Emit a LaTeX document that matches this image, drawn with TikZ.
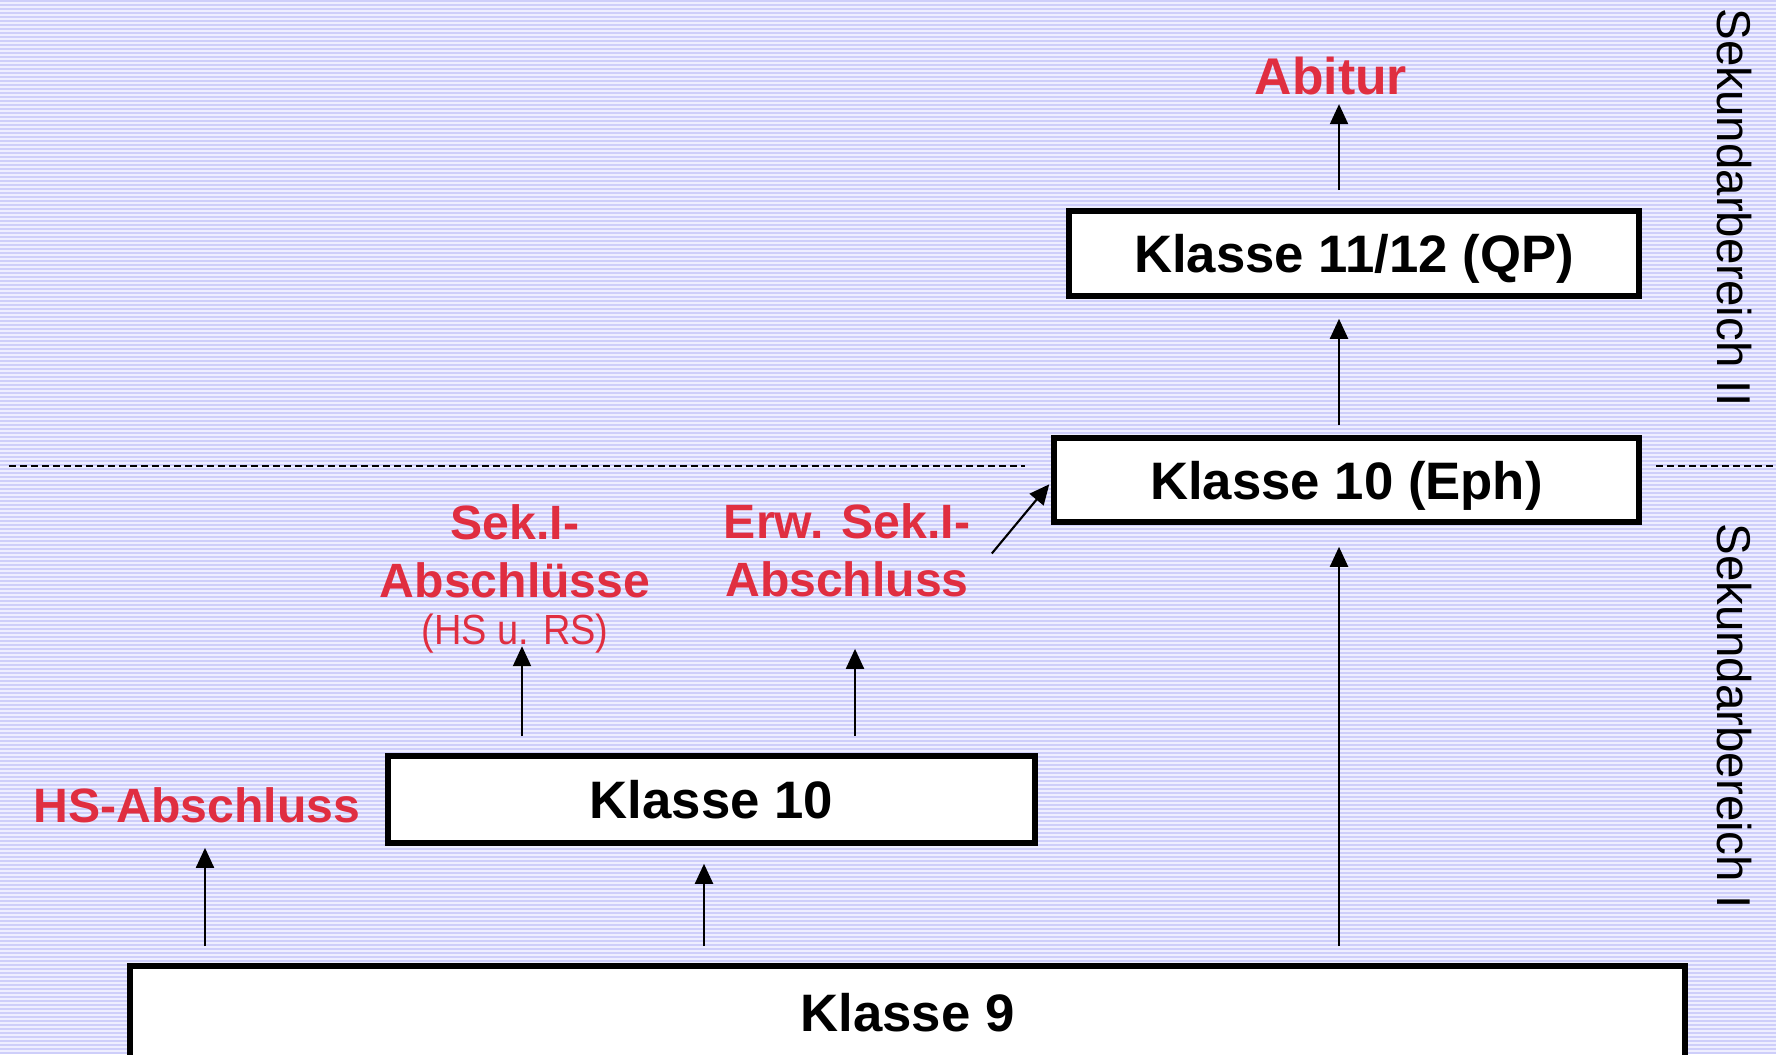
\documentclass[tikz,border=0pt]{standalone}
\usepackage{fontspec}
\setmainfont{Liberation Sans}
\usetikzlibrary{arrows.meta}
\definecolor{klred}{RGB}{224,46,64}
\definecolor{klback}{RGB}{238,238,255}
\definecolor{klstripe}{RGB}{206,206,250}
\tikzset{
  klbox/.style={draw=black, line width=1.6pt, fill=white, inner sep=0pt, text depth=0pt, font=\fontsize{15}{18}\selectfont\bfseries},
  kllabel/.style={text=klred, inner sep=0pt, align=center, font=\fontsize{13.7}{16.5}\selectfont\bfseries},
  klside/.style={rotate=-90, inner sep=0pt, font=\fontsize{13.5}{16}\selectfont},
  klline/.style={-{Triangle[length=2mm,width=1.8mm]}, line width=0.6pt},
  klsep/.style={line width=0.4pt, dash pattern=on 0.7mm off 0.4mm}
}
\begin{document}
\begin{tikzpicture}
  \useasboundingbox (0,0) rectangle (17.76,10.54);
  \fill[klback] (0,0) rectangle (17.76,10.54);
  \foreach \i in {0,...,263}
    \fill[klstripe] (0,\i*0.04) rectangle ++(17.76,0.02);

  \draw[klsep] (0.09,5.88) -- (10.25,5.88);
  \draw[klsep] (16.56,5.88) -- (17.73,5.88);

  \node[klbox, minimum width=15.55cm, minimum height=0.92cm] (k9) at (9.075,0.42) {Klasse 9};
  \node[klbox, minimum width=6.47cm, minimum height=0.87cm] (k10) at (7.115,2.545) {Klasse 10};
  \node[klbox, minimum width=5.85cm, minimum height=0.84cm] (eph) at (13.465,5.74) {Klasse 10 (Eph)};
  \node[klbox, minimum width=5.70cm, minimum height=0.85cm] (qp) at (13.54,8.005) {Klasse 11/12 (QP)};

  \node[kllabel, font=\fontsize{14.7}{17}\selectfont\bfseries] (abitur) at (13.31,9.775) {Abitur};
  \node[kllabel] (hs) at (1.97,2.485) {HS-Abschluss};
  \node[kllabel] (sek) at (5.15,4.75) {Sek.I-\\Abschlüsse\\[-3pt]{\mdseries\fontsize{12}{14}\selectfont\scalebox{0.9}[1]{(HS u. RS)}}};
  \node[kllabel] (erw) at (8.47,5.035) {Erw. Sek.I-\\Abschluss};

  \node[klside] (sek2) at (17.34,8.46) {Sekundarbereich II};
  \node[klside] (sek1) at (17.34,3.38) {Sekundarbereich I};

  \draw[klline, shorten <=1.7mm, shorten >=2.4mm] ([xshift=0.8mm]hs.south |- k9.north) -- ([xshift=0.8mm]hs.south);
  \draw[klline, shorten <=1.7mm, shorten >=1.8mm] ([xshift=-0.75mm]k10.south |- k9.north) -- ([xshift=-0.75mm]k10.south);
  \draw[klline, shorten <=1.7mm, shorten >=2.2mm] ([xshift=-0.75mm]eph.south |- k9.north) -- ([xshift=-0.75mm]eph.south);
  \draw[klline, shorten <=1.7mm] ([xshift=0.7mm]sek.south |- k10.north) -- ([xshift=0.7mm,yshift=0.8mm]sek.south);
  \draw[klline, shorten <=1.7mm, shorten >=5.1mm] ([xshift=0.8mm]erw.south |- k10.north) -- ([xshift=0.8mm]erw.south);
  \draw[klline, shorten >=0.3mm] ([xshift=2.1mm,yshift=-0.3mm]erw.east) -- ([yshift=-0.2mm]eph.west);
  \draw[klline, shorten <=1mm, shorten >=2mm] ([xshift=-0.75mm]eph.north) -- ([xshift=-0.75mm]eph.north |- qp.south);
  \draw[klline, shorten <=1.8mm, shorten >=0.8mm] ([xshift=0.8mm]abitur.south |- qp.north) -- ([xshift=0.8mm]abitur.south);
\end{tikzpicture}
\end{document}
